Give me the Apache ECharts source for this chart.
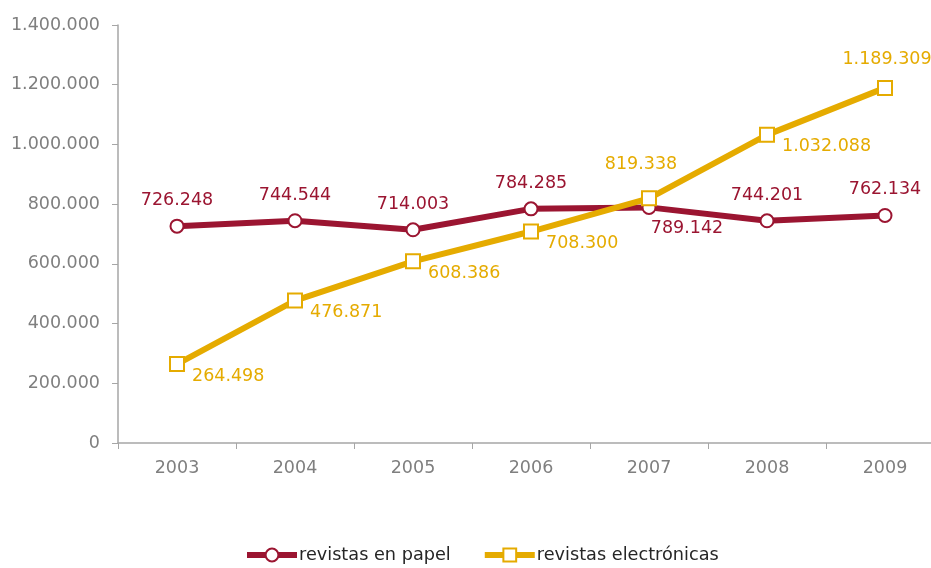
<!DOCTYPE html>
<html><head><meta charset="utf-8">
<script src="https://cdn.jsdelivr.net/npm/echarts@6/dist/echarts.min.js"></script>
<style>html,body{margin:0;padding:0;background:#fff}#c{width:931px;height:568px}</style>
</head><body><div id="c"></div>
<script>
const years = ['2003','2004','2005','2006','2007','2008','2009'];
const papel = [726248, 744544, 714003, 784285, 789142, 744201, 762134];
const electronicas = [264498, 476871, 608386, 708300, 819338, 1032088, 1189309];
const seriesNames = ['revistas en papel', 'revistas electrónicas'];

const fmt = v => String(Math.round(v)).replace(/\B(?=(\d{3})+(?!\d))/g, '.');
const RED = '#9b1531', YEL = '#e5ab00';
const FONT = 'DejaVu Sans';
const FS = 17.5;

const papelData = papel.map((v, i) => ({
  value: v,
  label: i === 4 ? { position: 'bottom', offset: [38, 0] } : { position: 'top', offset: [0, -4] }
}));
const elecData = electronicas.map((v, i) => {
  let label;
  if (i === 4) label = { position: 'top', offset: [-8, -12] };
  else if (i === 6) label = { position: 'top', offset: [2, -6] };
  else label = { position: 'right', offset: [2, 12] };
  return { value: v, label };
});

const chart = echarts.init(document.getElementById('c'));
chart.setOption({
  animation: false,
  textStyle: { fontFamily: FONT },
  grid: { left: 118, width: 826, top: 25, bottom: 125, outerBoundsMode: 'none', containLabel: false },
  legend: {
    top: 546, left: 244, itemGap: 31, itemWidth: 50, itemHeight: 16, padding: 0,
    textStyle: { fontFamily: FONT, fontSize: 17.7, color: '#262626', padding: [0, 0, 0, -3] },
    lineStyle: { width: 6 },
    data: seriesNames
  },
  xAxis: {
    type: 'category', data: years, boundaryGap: true,
    axisLine: { lineStyle: { color: '#a6a6a6', width: 1.5 } },
    axisTick: { show: true, length: 6, lineStyle: { color: '#a6a6a6' } },
    axisLabel: { fontFamily: FONT, fontSize: FS, color: '#7f7f7f', margin: 16 }
  },
  yAxis: {
    type: 'value', min: 0, max: 1400000, interval: 200000,
    splitLine: { show: false },
    axisLine: { show: true, lineStyle: { color: '#a6a6a6', width: 1.5 } },
    axisTick: { show: true, length: 6, lineStyle: { color: '#a6a6a6' } },
    axisLabel: { fontFamily: FONT, fontSize: FS, color: '#7f7f7f', margin: 18, formatter: fmt }
  },
  series: [
    {
      name: seriesNames[0], type: 'line', data: papelData,
      symbol: 'circle', symbolSize: 13,
      lineStyle: { color: RED, width: 6 },
      itemStyle: { color: '#fff', borderColor: RED, borderWidth: 2 },
      label: { show: true, fontFamily: FONT, fontSize: FS, color: RED, formatter: p => fmt(p.value) },
      z: 2
    },
    {
      name: seriesNames[1], type: 'line', data: elecData,
      symbol: 'rect', symbolSize: 14,
      lineStyle: { color: YEL, width: 6 },
      itemStyle: { color: '#fff', borderColor: YEL, borderWidth: 2 },
      label: { show: true, fontFamily: FONT, fontSize: FS, color: YEL, formatter: p => fmt(p.value) },
      z: 3
    }
  ]
});
</script></body></html>
